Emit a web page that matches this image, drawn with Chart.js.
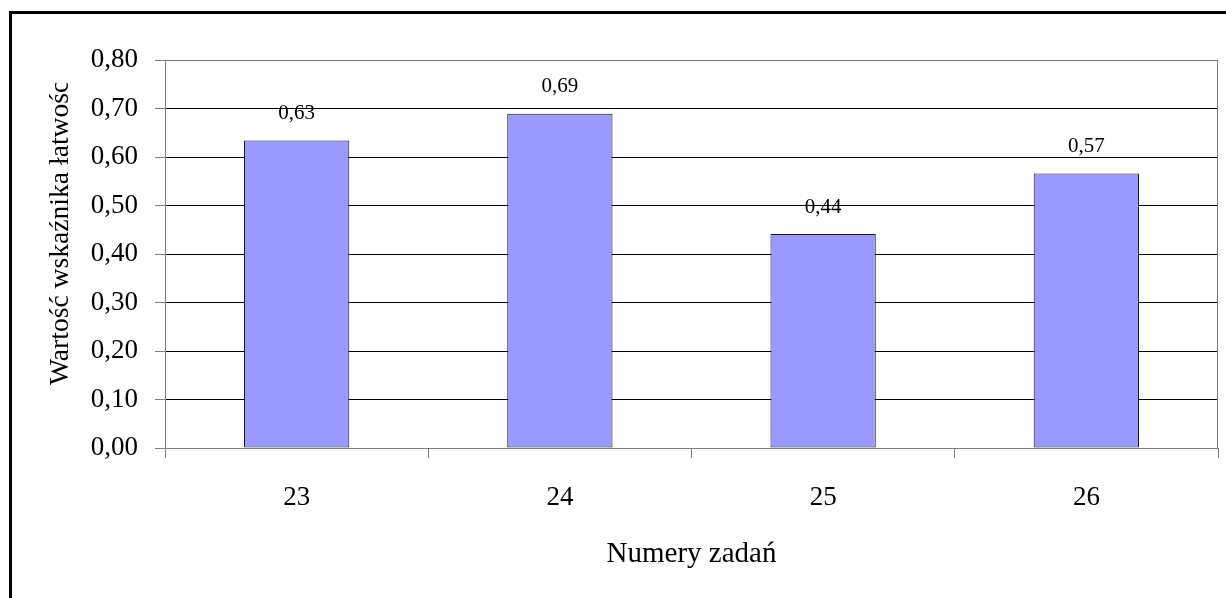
<!DOCTYPE html>
<html>
<head>
<meta charset="utf-8">
<script src="https://cdn.jsdelivr.net/npm/chart.js@4/dist/chart.umd.min.js"></script>
<style>
  body { margin: 0; background: #fff; }
  #wrap { position: relative; width: 1226px; height: 598px; overflow: hidden; }
  #ramka { position: absolute; left: 9px; top: 11px; width: 1400px; height: 800px;
           border-left: 3px solid #000; border-top: 3px solid #000; pointer-events: none; }
</style>
</head>
<body>
<div id="wrap">
  <canvas id="myChart" width="1226" height="598"></canvas>
  <div id="ramka"></div>
</div>
<script>
// dane
const zadania = ["23", "24", "25", "26"];
const wskaznik = [0.634, 0.689, 0.441, 0.566];
const tytulY = "Wartość wskaźnika łatwości";
const tytulX = "Numery zadań";

const czcionka = "'Liberation Serif', 'Times New Roman', serif";

function przecinek(v) {
  return v.toFixed(2).replace(".", ",");
}

// etykiety nad slupkami
const etykiety = {
  id: "etykiety",
  afterDatasetsDraw(chart) {
    const ctx = chart.ctx;
    const meta = chart.getDatasetMeta(0);
    ctx.save();
    ctx.font = "21px " + czcionka;
    ctx.fillStyle = "#000";
    ctx.textAlign = "center";
    ctx.textBaseline = "middle";
    meta.data.forEach((bar, i) => {
      ctx.fillText(przecinek(wskaznik[i]), bar.x, bar.y - 27);
    });
    ctx.restore();
  }
};

// ramka obszaru wykresu + tytul osi Y (uciety u gory jak w oryginale)
const ramkaIOs = {
  id: "ramkaIOs",
  beforeDatasetsDraw(chart) {
    const a = chart.chartArea;
    const ctx = chart.ctx;
    ctx.save();
    ctx.strokeStyle = "#808080";
    ctx.lineWidth = 1;
    ctx.beginPath();
    ctx.moveTo(a.left, a.top + 0.5);
    ctx.lineTo(a.right - 0.5, a.top + 0.5);
    ctx.lineTo(a.right - 0.5, a.bottom);
    ctx.stroke();
    ctx.restore();
  },
  afterDraw(chart) {
    const a = chart.chartArea;
    const ctx = chart.ctx;
    ctx.save();
    ctx.beginPath();
    ctx.rect(0, a.top + 23, a.left, chart.height);
    ctx.clip();
    ctx.translate(a.left - 97, a.bottom - 63);
    ctx.rotate(-Math.PI / 2);
    ctx.font = "27.6px " + czcionka;
    ctx.fillStyle = "#000";
    ctx.textAlign = "left";
    ctx.textBaseline = "alphabetic";
    ctx.fillText(tytulY, 0, 0);
    ctx.restore();
  }
};

const config = {
  type: "bar",
  data: {
    labels: zadania,
    datasets: [{
      data: wskaznik,
      backgroundColor: "#9999FF",
      borderColor: "#1a1a1a",
      borderWidth: 1,
      borderSkipped: false,
      categoryPercentage: 1,
      barPercentage: 0.4
    }]
  },
  options: {
    responsive: false,
    animation: false,
    layout: { padding: { left: 0, top: 60, right: 8, bottom: 0 } },
    plugins: { legend: { display: false }, tooltip: { enabled: false } },
    scales: {
      x: {
        afterFit(scale) { scale.height = 150; },
        border: { color: "#808080" },
        grid: { drawOnChartArea: false, tickLength: 10, tickColor: "#808080", offset: true },
        ticks: { color: "#000", font: { family: czcionka, size: 27 }, padding: 24 },
        title: {
          display: true, text: tytulX, color: "#000",
          font: { family: czcionka, size: 29 }, padding: { top: 0, bottom: 26 }
        }
      },
      y: {
        min: 0, max: 0.8,
        afterFit(scale) { scale.width = 165; },
        border: { color: "#808080" },
        grid: { color: "#000", tickLength: 10, tickColor: "#808080" },
        ticks: {
          stepSize: 0.1, color: "#000", padding: 17,
          font: { family: czcionka, size: 27 },
          callback: (v) => przecinek(v)
        }
      }
    }
  },
  plugins: [etykiety, ramkaIOs]
};

new Chart(document.getElementById("myChart"), config);
</script>
</body>
</html>
